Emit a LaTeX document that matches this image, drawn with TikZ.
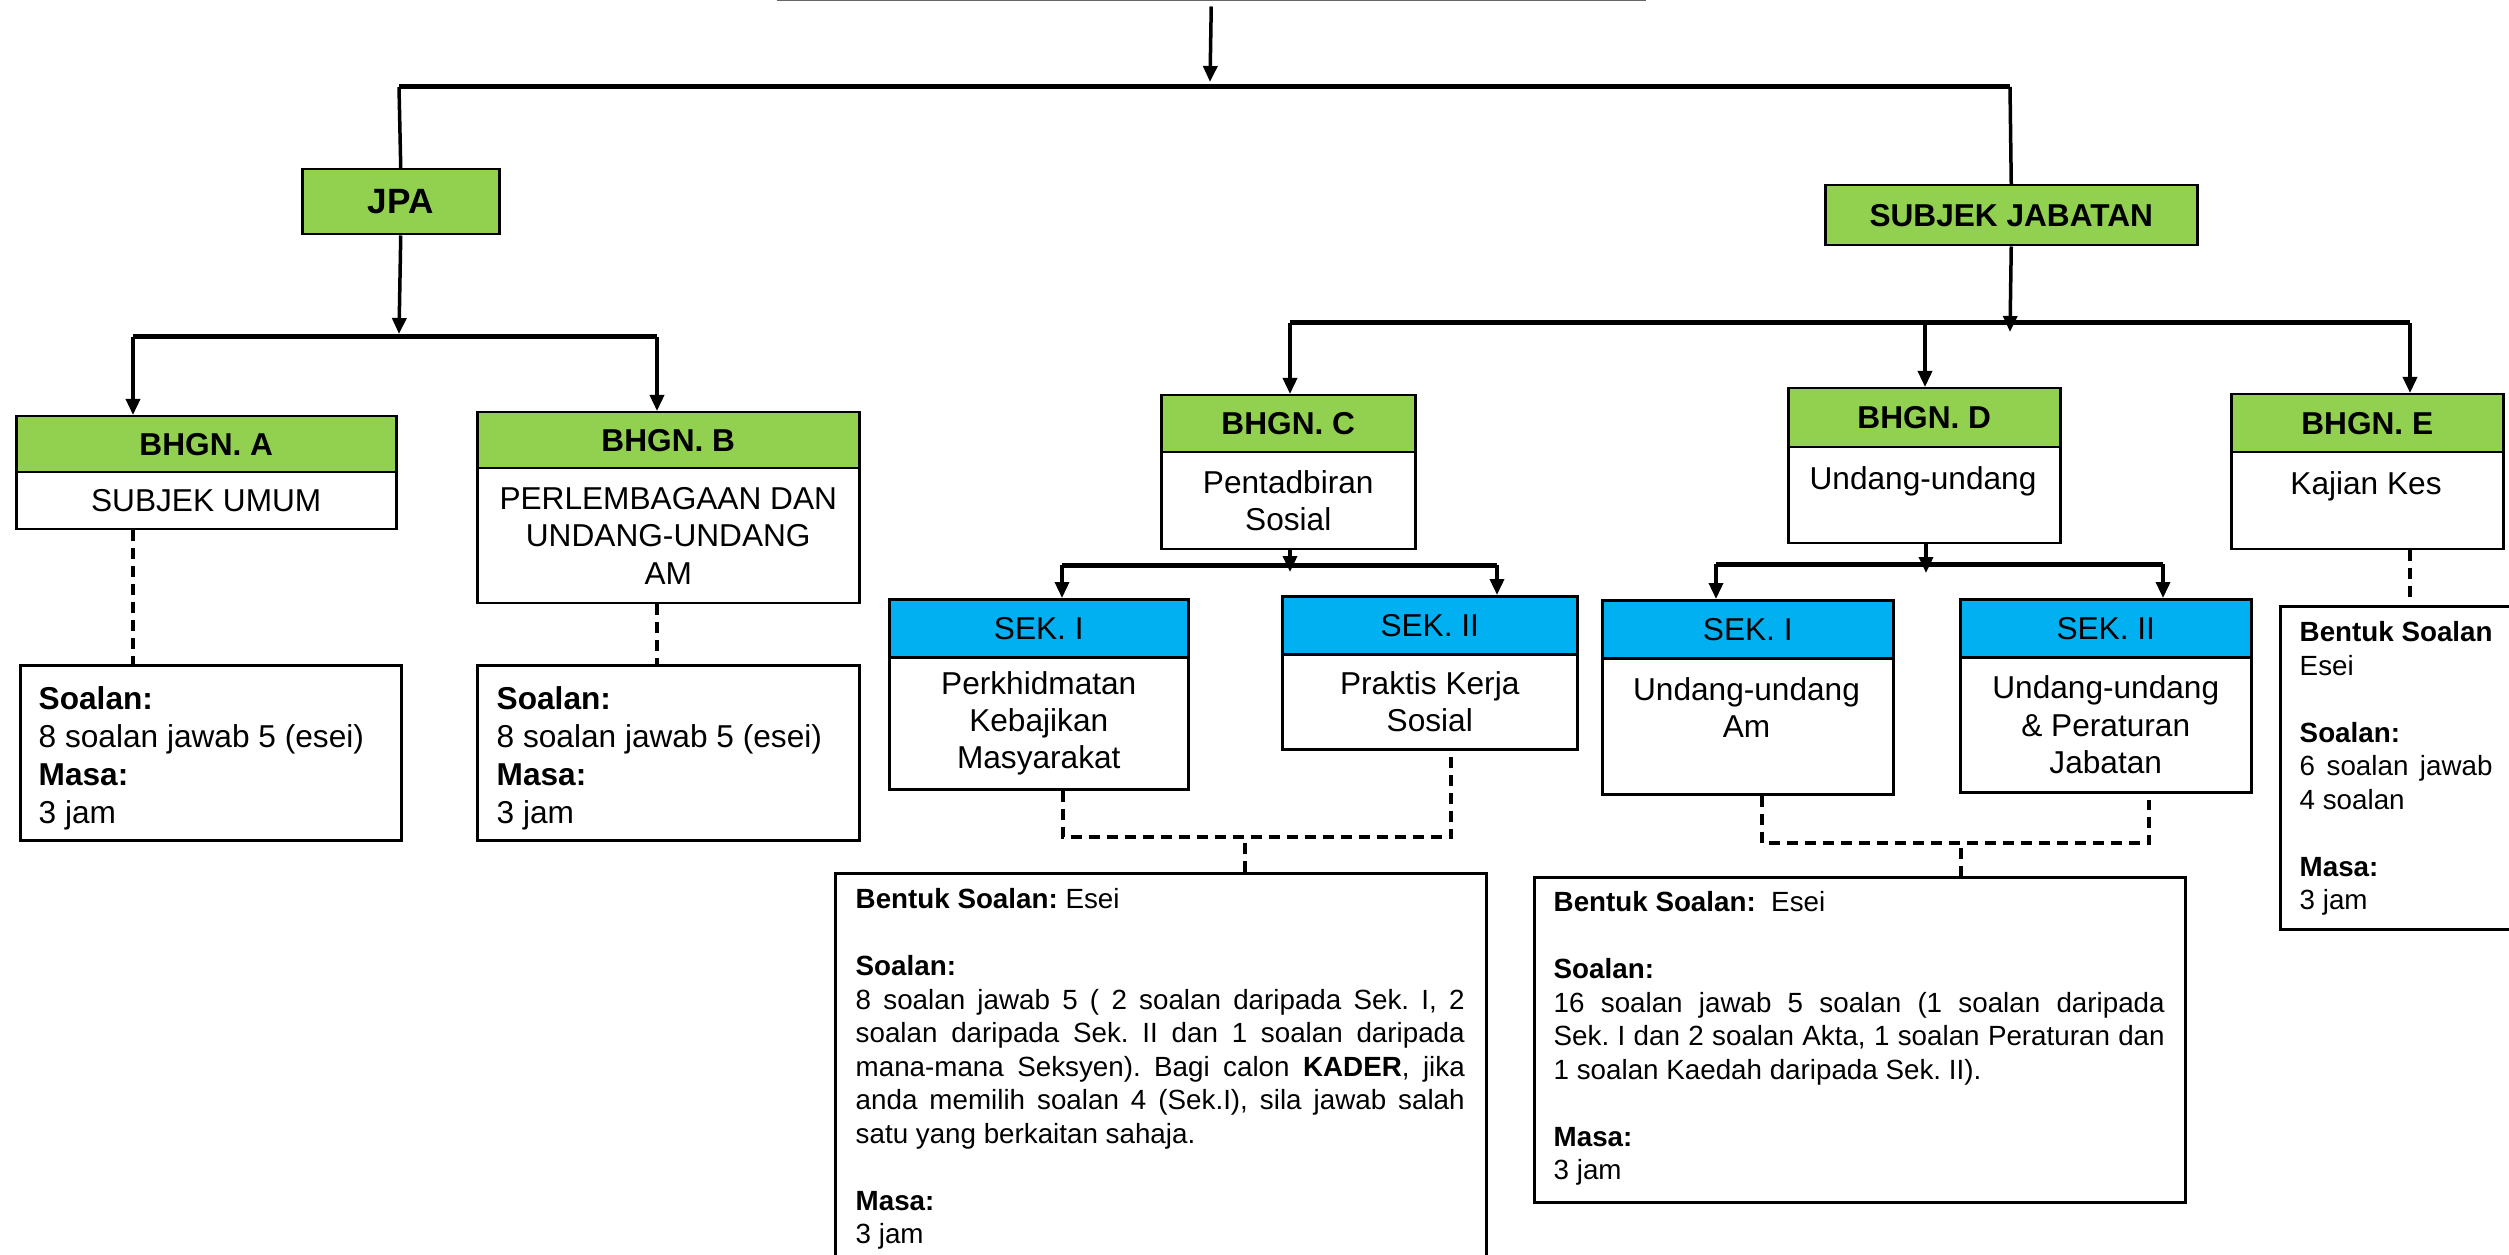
\documentclass[tikz,border=0pt]{standalone}
\usepackage{fontspec}
\setmainfont{Liberation Sans}
\usetikzlibrary{arrows.meta}
\definecolor{hgreen}{HTML}{92D050}
\definecolor{hblue}{HTML}{00B0F0}
\frenchspacing
\begin{document}
\begin{tikzpicture}[x=0.1mm,y=-0.1mm,
  box/.style={draw=black, line width=0.25mm, rectangle, inner sep=0pt, anchor=north west},
  hdr/.style={box, fill=hgreen, font=\fontsize{9}{10.6}\selectfont\bfseries},
  sek/.style={box, fill=hblue, font=\fontsize{9}{10.6}\selectfont},
  wbox/.style={box, fill=white, font=\fontsize{9}{10.6}\selectfont, align=center},
  txt/.style={inner sep=0pt, font=\fontsize{9}{10.6}\selectfont},
  small/.style={inner sep=0pt, anchor=north west, font=\fontsize{7.9}{9.53}\selectfont},
  conn/.style={line width=0.35mm},
  bus/.style={line width=0.5mm},
  arr/.style={line width=0.35mm, -{Triangle[length=1.6mm,width=1.4mm]}},
  dline/.style={line width=0.42mm, dash pattern=on 1.1mm off 0.7mm}
]
\useasboundingbox (0,0) rectangle (2509,1255);
\clip (0,0) rectangle (2509,1255);

% top (cut-off) box
\node[box, draw=black!60, anchor=south west, minimum width=86.6mm, minimum height=20mm] (topbox) at (777,1.5) {};

% level 1
\node[hdr, font=\fontsize{10}{12}\selectfont\bfseries, minimum width=19.7mm, minimum height=6.5mm] (jpa) at (301,168) {JPA};
\node[hdr, minimum width=37.2mm, minimum height=6mm] (sj) at (1824,184) {SUBJEK JABATAN};

% BHGN A
\node[hdr, minimum width=38mm, minimum height=5.6mm] (ah) at (15,415) {BHGN. A};
\node[wbox, minimum width=38mm, minimum height=5.7mm] (aw) at (15,471) {SUBJEK UMUM};
\node[box, minimum width=38.1mm, minimum height=17.5mm] (as) at (19,664) {};
\node[txt, anchor=north west, align=left, font=\fontsize{9}{10.8}\selectfont] (ast) at (38,686) {\textbf{Soalan:}\\8 soalan jawab 5 (esei)\\\textbf{Masa:}\\3 jam};

% BHGN B
\node[hdr, minimum width=38.2mm, minimum height=5.6mm] (bh) at (476,411) {BHGN. B};
\node[wbox, minimum width=38.2mm, minimum height=13.5mm] (bw) at (476,467) {PERLEMBAGAAN DAN\\UNDANG-UNDANG\\AM};
\node[box, minimum width=38.2mm, minimum height=17.5mm] (bs) at (476,664) {};
\node[txt, anchor=north west, align=left, font=\fontsize{9}{10.8}\selectfont] (bst) at (496,686) {\textbf{Soalan:}\\8 soalan jawab 5 (esei)\\\textbf{Masa:}\\3 jam};

% BHGN C
\node[hdr, minimum width=25.4mm, minimum height=5.7mm] (ch) at (1160,394) {BHGN. C};
\node[wbox, minimum width=25.4mm, minimum height=9.7mm] (cw) at (1160,451) {Pentadbiran\\Sosial};

% BHGN D
\node[hdr, minimum width=27.2mm, minimum height=5.9mm] (dh) at (1787,387) {BHGN. D};
\node[wbox, minimum width=27.2mm, minimum height=9.6mm] (dw) at (1787,446) {};
\node[txt, anchor=north] (dwt) at (1923,466) {Undang-undang};

% BHGN E
\node[hdr, minimum width=27.2mm, minimum height=5.8mm] (eh) at (2230,393) {BHGN. E};
\node[wbox, minimum width=27.2mm, minimum height=9.7mm] (ew) at (2230,451) {};
\node[txt, anchor=north] (ewt) at (2366,471) {Kajian Kes};

% SEK under C
\node[sek, minimum width=29.9mm, minimum height=5.8mm] (c1h) at (888,598) {SEK. I};
\node[wbox, minimum width=29.9mm, minimum height=13.2mm] (c1w) at (888,656) {Perkhidmatan\\Kebajikan\\Masyarakat};
\node[sek, minimum width=29.5mm, minimum height=5.8mm] (c2h) at (1281,595) {SEK. II};
\node[wbox, minimum width=29.5mm, minimum height=9.5mm] (c2w) at (1281,653) {Praktis Kerja\\Sosial};

% SEK under D
\node[sek, minimum width=29.1mm, minimum height=5.8mm] (d1h) at (1601,599) {SEK. I};
\node[wbox, minimum width=29.1mm, minimum height=13.6mm] (d1w) at (1601,657) {};
\node[txt, anchor=north, align=center] (d1t) at (1746.5,677) {Undang-undang\\Am};
\node[sek, minimum width=29.1mm, minimum height=5.8mm] (d2h) at (1959,598) {SEK. II};
\node[wbox, minimum width=29.1mm, minimum height=13.5mm] (d2w) at (1959,656) {Undang-undang\\\& Peraturan\\Jabatan};

% big info boxes
\node[box, minimum width=65.1mm, minimum height=45mm] (cs) at (834,872) {};
\node[small, text width=60.9mm, align=justify] (cst) at (855,888) {\hyphenpenalty=10000
\textbf{Bentuk Soalan:} Esei\\\mbox{}\\\textbf{Soalan:}\\8 soalan jawab 5 ( 2 soalan daripada Sek. I, 2\linebreak soalan daripada Sek. II dan 1 soalan daripada\linebreak mana-mana Seksyen). Bagi calon \textbf{KADER}, jika\linebreak anda memilih soalan 4 (Sek.I), sila jawab salah\linebreak satu yang berkaitan sahaja.\\\mbox{}\\\textbf{Masa:}\\3 jam};

\node[box, minimum width=65.1mm, minimum height=32.5mm] (ds) at (1533,876) {};
\node[small, text width=61.1mm, align=justify] (dst) at (1553,891) {\hyphenpenalty=10000
\textbf{Bentuk Soalan:}\ \ Esei\\\mbox{}\\\textbf{Soalan:}\\16 soalan jawab 5 soalan (1 soalan daripada\linebreak Sek. I dan 2 soalan Akta, 1 soalan Peraturan dan\linebreak 1 soalan Kaedah daripada Sek. II).\\\mbox{}\\\textbf{Masa:}\\3 jam};

\node[box, minimum width=30mm, minimum height=32.3mm] (es) at (2279,605) {};
\node[small, align=left] (est) at (2299,621) {\textbf{Bentuk Soalan}\\Esei\\\mbox{}\\\textbf{Soalan:}\\6\hspace{1.15mm}soalan\hspace{1.15mm}jawab\\4 soalan\\\mbox{}\\\textbf{Masa:}\\3 jam};

% ---- connectors ----
\coordinate (b1L) at (399,87);
\coordinate (b1M) at (1210,87);
\coordinate (b1R) at (2010,87);
\draw[arr] (topbox.south |- 0,6.5) -- ([yshift=0.5mm]b1M);
\draw[bus] (b1L) -- (b1R);
\draw[conn] (b1L) -- (jpa.north);
\draw[conn] (b1R) -- (sj.north);

\coordinate (b2L) at (133,337);
\coordinate (b2M) at (399,337);
\coordinate (b2R) at (657,337);
\draw[arr] (jpa.south) -- ([yshift=0.3mm]b2M);
\draw[bus] (b2L) -- (b2R);
\draw[arr] (b2L) -- (b2L |- ah.north);
\draw[arr] (b2R) -- (b2R |- bh.north);
\draw[dline] (b2L |- aw.south) -- (b2L |- as.north);
\draw[dline] (b2R |- bw.south) -- (b2R |- bs.north);

\coordinate (b3L) at (1290,323);
\coordinate (b3D) at (1925,323);
\coordinate (b3M) at (2010,323);
\coordinate (b3R) at (2410,323);
\draw[bus] (b3L) -- (b3R);
\draw[arr] (sj.south) -- ([yshift=-0.9mm]b3M);
\draw[arr] (b3L) -- (b3L |- ch.north);
\draw[arr] (b3D) -- (b3D |- dh.north);
\draw[arr] (b3R) -- (b3R |- eh.north);

\coordinate (b4L) at (1062,565);
\coordinate (b4M) at (1290,565);
\coordinate (b4R) at (1497,565);
\draw[bus] (b4L) -- (b4R);
\draw[arr] (b4M |- cw.south) -- ([yshift=-0.7mm]b4M);
\draw[arr] (b4L) -- (b4L |- c1h.north);
\draw[arr] (b4R) -- (b4R |- c2h.north);
\coordinate (c1d) at (1063,837);
\coordinate (c2d) at (1451,837);
\draw[dline] (c1d |- c1w.south) -- (c1d) -- (c2d) -- (c2d |- c2w.south);
\coordinate (cj) at (1245,843);
\draw[dline] (cj) -- (cj |- cs.north);

\coordinate (b5L) at (1716,564);
\coordinate (b5M) at (1926,564);
\coordinate (b5R) at (2163,564);
\draw[bus] (b5L) -- (b5R);
\draw[arr] (b5M |- dw.south) -- ([yshift=-0.9mm]b5M);
\draw[arr] (b5L) -- (b5L |- d1h.north);
\draw[arr] (b5R) -- (b5R |- d2h.north);
\coordinate (d1d) at (1762,843);
\coordinate (d2d) at (2149,843);
\coordinate (d2e) at (2149,800);
\draw[dline] (d1d |- d1w.south) -- (d1d) -- (d2d) -- (d2e);
\coordinate (dj) at (1961,848);
\draw[dline] (dj) -- (dj |- ds.north);

\coordinate (ee) at (2410,597);
\draw[dline] (b3R |- ew.south) -- (ee);
\end{tikzpicture}
\end{document}
